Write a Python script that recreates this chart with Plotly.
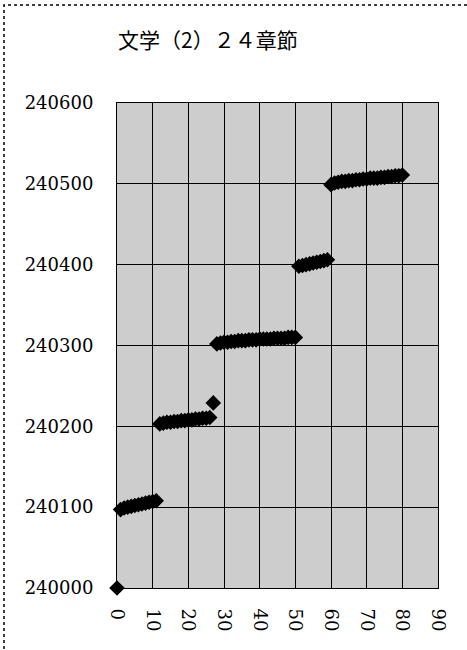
import plotly.graph_objects as go

# x positions (sequence index) and y values
x_vals = list(range(0, 81))
y_vals = (
    [240000]
    + [240097, 240099, 240100, 240101, 240102, 240103, 240104, 240105, 240106, 240107, 240108]
    + [240203, 240204, 240205, 240205, 240206, 240206, 240207, 240207, 240208, 240208, 240209, 240209, 240210, 240210, 240211]
    + [240229]
    + [240302, 240303, 240304, 240304, 240305, 240305, 240306, 240306, 240306, 240307, 240307, 240307, 240308, 240308, 240308, 240308, 240309, 240309, 240309, 240309, 240310, 240310, 240310]
    + [240398, 240399, 240400, 240401, 240402, 240403, 240404, 240405, 240406]
    + [240499, 240501, 240502, 240503, 240503, 240504, 240504, 240505, 240505, 240506, 240506, 240507, 240507, 240507, 240508, 240508, 240509, 240509, 240510, 240510, 240511]
)
x_ticks = [0, 10, 20, 30, 40, 50, 60, 70, 80, 90]
y_ticks = [240000, 240100, 240200, 240300, 240400, 240500, 240600]
title_text = "文学（2）２４章節"

serif = "DejaVu Serif"

fig = go.Figure()
fig.add_trace(go.Scatter(
    x=x_vals, y=y_vals, mode="markers", cliponaxis=False,
    marker=dict(symbol="diamond", size=12, color="black", line=dict(width=0)),
    showlegend=False,
))

fig.update_layout(
    width=467, height=650,
    margin=dict(l=117, r=29, t=103, b=62),
    paper_bgcolor="white",
    plot_bgcolor="#cdcdcd",
    font=dict(family=serif),
    title=dict(text=title_text, x=0.445, xanchor="center", y=0.938, yanchor="middle",
               font=dict(family="Noto Sans CJK JP", size=21, color="black")),
    xaxis=dict(range=[0, 90], tickvals=x_ticks, ticktext=[str(v) for v in x_ticks],
               tickangle=90, showgrid=True, gridcolor="black", gridwidth=1,
               showline=True, linecolor="black", linewidth=1, mirror=True,
               zeroline=False, ticks="outside", ticklen=16, tickcolor="rgba(0,0,0,0)",
               tickfont=dict(family=serif, size=18, color="black")),
    yaxis=dict(range=[240000, 240600], tickvals=y_ticks, ticktext=[str(v) for v in y_ticks],
               showgrid=True, gridcolor="black", gridwidth=1,
               showline=True, linecolor="black", linewidth=1, mirror=True,
               zeroline=False, ticks="outside", ticklen=19, tickcolor="rgba(0,0,0,0)",
               tickfont=dict(family=serif, size=18, color="black")),
)

# outer dashed frame
fig.add_shape(type="rect", xref="paper", yref="paper",
              x0=-113/321, x1=60/321 + 1, y0=-80/485, y1=1 + 98/485,
              line=dict(color="black", width=1.5, dash="dot"))

fig.write_html("out.html")
